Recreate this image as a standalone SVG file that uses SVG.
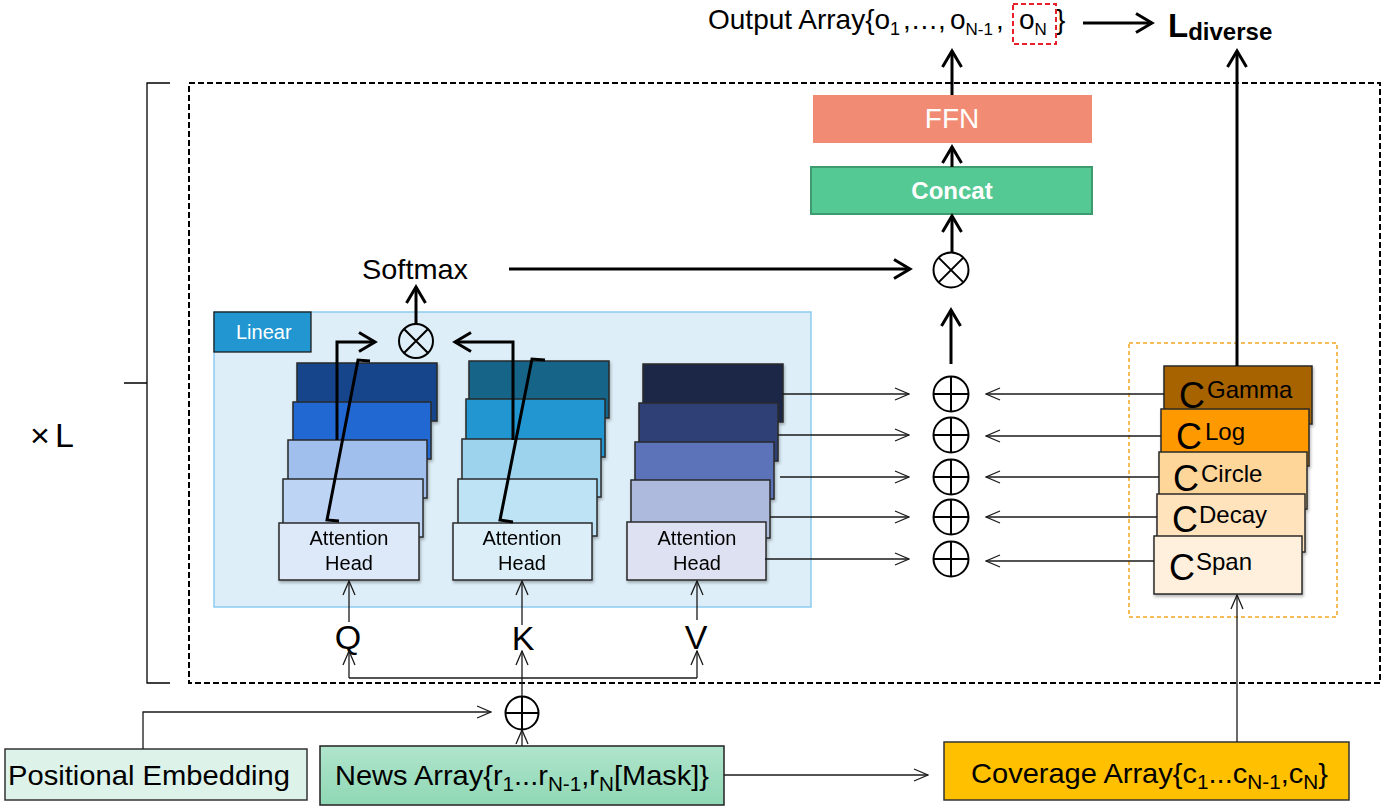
<svg xmlns="http://www.w3.org/2000/svg" width="1393" height="806" viewBox="0 0 1393 806">
<style>
.t{font-family:"Liberation Sans",Arial,sans-serif;fill:#000}
.w{fill:#fff}
.b{font-weight:bold}
.box{stroke:#2a2a2a;stroke-width:1.5}
.thin{stroke:#1a1a1a;stroke-width:1.3;fill:none}
.thick{stroke:#000;stroke-width:3;fill:none}
.op{fill:none;stroke:#000;stroke-width:2}
</style>
<defs>
<marker id="at" markerUnits="userSpaceOnUse" markerWidth="16" markerHeight="14" viewBox="0 0 16 14" refX="15" refY="7" orient="auto"><path d="M1,1 L15,7 L1,13" fill="none" stroke="#1a1a1a" stroke-width="1.3"/></marker>
<marker id="ak" markerUnits="userSpaceOnUse" markerWidth="22" markerHeight="22" viewBox="0 0 22 22" refX="19" refY="11" orient="auto"><path d="M3,1.5 L19,11 L3,20.5" fill="none" stroke="#000" stroke-width="3"/></marker>
<filter id="sh" x="-10%" y="-15%" width="125%" height="145%"><feDropShadow dx="1" dy="2" stdDeviation="1.5" flood-color="#000" flood-opacity="0.3"/></filter>
<linearGradient id="ng" x1="0" y1="0" x2="0" y2="1"><stop offset="0" stop-color="#B0E4CC"/><stop offset="1" stop-color="#8FD8B5"/></linearGradient>
</defs>

<g id="repeat-frame">
<rect x="189" y="83" width="1191" height="600" fill="none" stroke="#000" stroke-width="2" stroke-dasharray="6,3"/>
<path d="M170,83 H147 V683 H170 M147,383 H124" fill="none" stroke="#000" stroke-width="1.3"/>
<text class="t" x="30 55" y="447" font-size="34">×L</text>
</g>

<g id="output">
<text class="t" y="29" font-size="28"><tspan x="708">Output Array{o</tspan><tspan dy="6" font-size="18">1</tspan><tspan x="903" dy="-6" letter-spacing="1">,...,</tspan><tspan x="950">o</tspan><tspan dy="6" font-size="17">N-1</tspan><tspan x="996" dy="-6">,</tspan><tspan x="1019">o</tspan><tspan dy="6" font-size="17">N</tspan><tspan x="1056" dy="-6">}</tspan></text>
<rect x="1013" y="4" width="43" height="40" fill="none" stroke="#E8202A" stroke-width="2" stroke-dasharray="5,3"/>
</g>

<g id="loss">
<text class="t b" y="37"><tspan x="1168" font-size="33">L</tspan><tspan font-size="24" dy="3">diverse</tspan></text>
</g>

<g id="ffn">
<rect x="813" y="95" width="279" height="48" fill="#F18B73"/>
<text class="t w" x="952" y="128" font-size="28" text-anchor="middle">FFN</text>
</g>

<g id="concat">
<rect x="811" y="167" width="281" height="47" fill="#55C994" stroke="#3D9B6E" stroke-width="2"/>
<text class="t w b" x="952" y="199" font-size="24" text-anchor="middle">Concat</text>
</g>

<g id="mul-out">
<circle cx="951" cy="270" r="17.5" class="op"/>
<path d="M938.6,257.6 L963.4,282.4 M963.4,257.6 L938.6,282.4" class="op"/>
</g>

<g id="softmax">
<text class="t" x="362" y="279" font-size="28" textLength="106" lengthAdjust="spacingAndGlyphs">Softmax</text>
</g>

<g id="linear">
<rect x="214" y="312" width="597" height="295" fill="#DDEEF8" stroke="#8CCBEF" stroke-width="1.5"/>
<rect x="214" y="312" width="97" height="40" fill="#2196D1" stroke="#1d1d1d" stroke-width="1.3"/>
<text class="t w" x="236" y="339" font-size="20">Linear</text>
</g>

<g id="mul-qk">
<circle cx="416" cy="341" r="17" class="op"/>
<path d="M404,329 L428,353 M428,329 L404,353" class="op"/>
</g>

<g id="q-stack" filter="url(#sh)">
<rect class="box" x="297" y="363" width="140" height="58" fill="#17448B"/>
<rect class="box" x="293" y="402" width="138" height="57" fill="#2167D3"/>
<rect class="box" x="288" y="440" width="139" height="58" fill="#A0BFED"/>
<rect class="box" x="283" y="479" width="140" height="58" fill="#BED4F5"/>
<rect class="box" x="279" y="523" width="140" height="57" fill="#DDE8F8"/>
<text class="t" x="349" y="545" font-size="20" text-anchor="middle">Attention</text>
<text class="t" x="349" y="570" font-size="20" text-anchor="middle">Head</text>
</g>

<g id="k-stack" filter="url(#sh)">
<rect class="box" x="469" y="361" width="140" height="57" fill="#176589"/>
<rect class="box" x="466" y="399" width="139" height="58" fill="#2196D1"/>
<rect class="box" x="462" y="439" width="139" height="58" fill="#9DD3EC"/>
<rect class="box" x="458" y="479" width="139" height="57" fill="#BDE3F4"/>
<rect class="box" x="453" y="523" width="139" height="57" fill="#DCEFF9"/>
<text class="t" x="522" y="545" font-size="20" text-anchor="middle">Attention</text>
<text class="t" x="522" y="570" font-size="20" text-anchor="middle">Head</text>
</g>

<g id="v-stack" filter="url(#sh)">
<rect class="box" x="643" y="364" width="140" height="58" fill="#1E2846"/>
<rect class="box" x="639" y="403" width="139" height="58" fill="#2E3F75"/>
<rect class="box" x="635" y="442" width="139" height="57" fill="#5C73B9"/>
<rect class="box" x="631" y="480" width="139" height="58" fill="#AEB9DE"/>
<rect class="box" x="627" y="522" width="139" height="58" fill="#DEE1F1"/>
<text class="t" x="697" y="545" font-size="20" text-anchor="middle">Attention</text>
<text class="t" x="697" y="570" font-size="20" text-anchor="middle">Head</text>
</g>

<g id="qkv-labels">
<text class="t" x="348" y="649" font-size="34" text-anchor="middle">Q</text>
<text class="t" x="523" y="650" font-size="34" text-anchor="middle">K</text>
<text class="t" x="696" y="649" font-size="34" text-anchor="middle">V</text>
</g>

<g id="add-heads">
<g class="op" stroke-width="1.8">
<circle cx="951" cy="394" r="17.5"/><path d="M933.5,394 H968.5 M951,376.5 V411.5"/>
<circle cx="951" cy="435" r="17.5"/><path d="M933.5,435 H968.5 M951,417.5 V452.5"/>
<circle cx="951" cy="477" r="17.5"/><path d="M933.5,477 H968.5 M951,459.5 V494.5"/>
<circle cx="951" cy="517" r="17.5"/><path d="M933.5,517 H968.5 M951,499.5 V534.5"/>
<circle cx="951" cy="559" r="17.5"/><path d="M933.5,559 H968.5 M951,541.5 V576.5"/>
</g>
</g>

<g id="coverage-stack">
<rect x="1129" y="343" width="208" height="274" fill="none" stroke="#F5A623" stroke-width="1.5" stroke-dasharray="4,3"/>
<g filter="url(#sh)">
<rect class="box" x="1164" y="366" width="148" height="58" fill="#A66300"/>
<rect class="box" x="1161" y="409" width="148" height="57" fill="#FF9900"/>
<rect class="box" x="1159" y="452" width="148" height="57" fill="#FFD699"/>
<rect class="box" x="1157" y="494" width="148" height="58" fill="#FFE3BD"/>
<rect class="box" x="1154" y="536" width="148" height="58" fill="#FFF0DE"/>
</g>
<text class="t" y="408"><tspan x="1179" font-size="36">C</tspan><tspan x="1207" dy="-10" font-size="24">Gamma</tspan></text>
<text class="t" y="449"><tspan x="1176" font-size="36">C</tspan><tspan x="1205" dy="-9" font-size="24">Log</tspan></text>
<text class="t" y="491"><tspan x="1173" font-size="36">C</tspan><tspan x="1201" dy="-9" font-size="24">Circle</tspan></text>
<text class="t" y="532"><tspan x="1172" font-size="36">C</tspan><tspan x="1199" dy="-9" font-size="24">Decay</tspan></text>
<text class="t" y="580"><tspan x="1169" font-size="36">C</tspan><tspan x="1196" dy="-10" font-size="24">Span</tspan></text>
</g>

<g id="add-pos">
<circle cx="522" cy="713" r="16.5" class="op" stroke-width="1.6"/>
<path d="M505.5,713 H538.5 M522,696.5 V729.5" class="op" stroke-width="1.6"/>
</g>

<g id="positional">
<rect x="5" y="749" width="302" height="51" fill="#DDF2E9" stroke="#333" stroke-width="1.5"/>
<text class="t" x="8" y="785" font-size="28" textLength="282" lengthAdjust="spacingAndGlyphs">Positional Embedding</text>
</g>

<g id="news">
<rect x="320" y="746" width="404" height="59" fill="url(#ng)" stroke="#222" stroke-width="1.5"/>
<text class="t" x="335" y="785" font-size="28" textLength="374" lengthAdjust="spacingAndGlyphs">News Array{r<tspan dy="6" font-size="20">1</tspan><tspan dy="-6">...r</tspan><tspan dy="6" font-size="20">N-1</tspan><tspan dy="-6">,r</tspan><tspan dy="6" font-size="20">N</tspan><tspan dy="-6">[Mask]}</tspan></text>
</g>

<g id="coverage">
<rect x="944" y="742" width="405" height="58" fill="#FFC000" stroke="#333" stroke-width="1.5"/>
<text class="t" x="971" y="783" font-size="28" textLength="357" lengthAdjust="spacingAndGlyphs">Coverage Array{c<tspan dy="6" font-size="20">1</tspan><tspan dy="-6">...c</tspan><tspan dy="6" font-size="20">N-1</tspan><tspan dy="-6">,c</tspan><tspan dy="6" font-size="20">N</tspan><tspan dy="-6">}</tspan></text>
</g>

<g id="connectors">
<path class="thick" d="M1083,23 H1152" marker-end="url(#ak)"/>
<path class="thick" d="M952,95 V51" marker-end="url(#ak)"/>
<path class="thick" d="M1237,366 V51" marker-end="url(#ak)"/>
<path class="thick" d="M952,167 V147" marker-end="url(#ak)"/>
<path class="thick" d="M952,252 V216" marker-end="url(#ak)"/>
<path class="thick" d="M951,364 V310" marker-end="url(#ak)"/>
<path class="thick" d="M509,269 H910" marker-end="url(#ak)"/>
<path class="thick" d="M416,324 V287" marker-end="url(#ak)"/>
<path class="thick" d="M337,440 V342 H375" marker-end="url(#ak)"/>
<path class="thick" d="M513,440 V342 H455" marker-end="url(#ak)"/>
<path class="thick" d="M339,521 L327,520 L358,360 L370,361"/>
<path class="thick" d="M513,522 L500,520 L532,359 L545,360"/>

<path class="thin" d="M782,394 H909" marker-end="url(#at)"/>
<path class="thin" d="M778,435 H909" marker-end="url(#at)"/>
<path class="thin" d="M780,477 H909" marker-end="url(#at)"/>
<path class="thin" d="M770,517 H909" marker-end="url(#at)"/>
<path class="thin" d="M765,559 H909" marker-end="url(#at)"/>

<path class="thin" d="M1164,394 H986" marker-end="url(#at)"/>
<path class="thin" d="M1161,436 H986" marker-end="url(#at)"/>
<path class="thin" d="M1159,477 H986" marker-end="url(#at)"/>
<path class="thin" d="M1157,517 H986" marker-end="url(#at)"/>
<path class="thin" d="M1154,561 H986" marker-end="url(#at)"/>

<path class="thin" d="M349,622 V581" marker-end="url(#at)"/>
<path class="thin" d="M522,625 V581" marker-end="url(#at)"/>
<path class="thin" d="M697,620 V581" marker-end="url(#at)"/>

<path class="thin" d="M522,696 V651" marker-end="url(#at)"/>
<path class="thin" d="M349,678 H697"/>
<path class="thin" d="M349,678 V651" marker-end="url(#at)"/>
<path class="thin" d="M697,678 V651" marker-end="url(#at)"/>
<path class="thin" d="M143,749 V712 H491" marker-end="url(#at)"/>
<path class="thin" d="M522,746 V730" marker-end="url(#at)"/>
<path class="thin" d="M724,775 H928" marker-end="url(#at)"/>
<path class="thin" d="M1237,742 V595" marker-end="url(#at)"/>
</g>
</svg>
